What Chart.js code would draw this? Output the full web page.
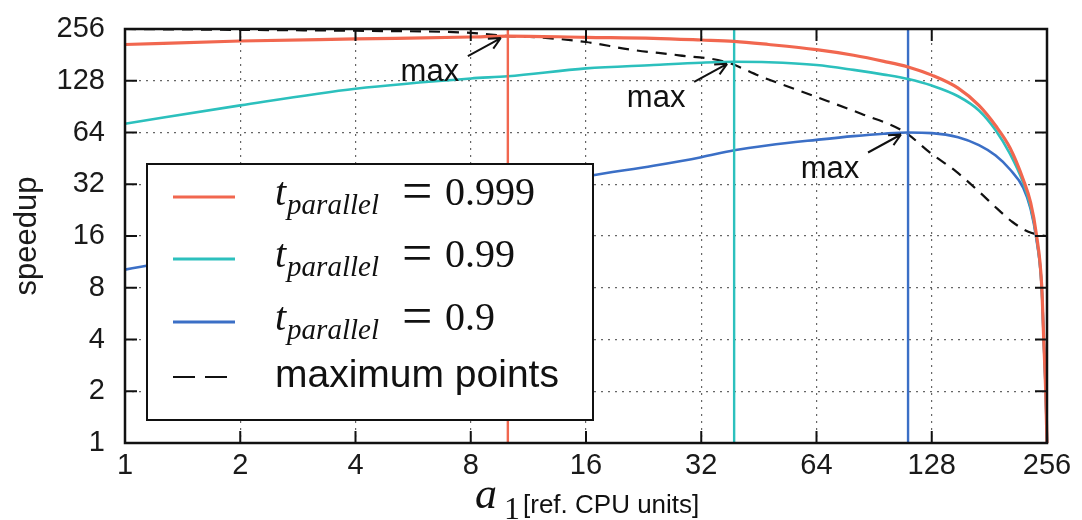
<!DOCTYPE html>
<html>
<head>
<meta charset="utf-8">
<script src="https://cdn.jsdelivr.net/npm/chart.js@4.4.0/dist/chart.umd.min.js"></script>
<style>
  html, body { margin:0; padding:0; background:#fff; }
</style>
</head>
<body>
<canvas id="myChart" width="1082" height="520"></canvas>
<script>
'use strict' ;

// a1 sizes where the curves were read
const xVals = [1, 2, 4, 8, 10, 16, 24, 32, 39, 48, 64, 80, 96, 111, 128, 150, 170, 188, 205, 222, 232, 240, 248, 251, 254, 256] ;
const speedup999 = [208, 218, 224, 230, 233, 229, 226, 221, 217, 208, 194, 180, 166, 154, 138, 116, 92, 70, 52, 34, 25, 16.5, 8.2, 4, 2, 1] ;
const speedup99 = [72, 92, 115, 132, 136, 151, 158, 163, 165, 164, 158, 148, 139, 131, 120, 104, 86, 66, 48, 32.5, 23.5, 16, 8, 4, 2, 1] ;
const speedup9 = [10.2, 13.5, 19, 26, 28.5, 35.5, 41, 46, 50.5, 54, 58, 61, 63, 64, 63.5, 60, 54, 47, 39, 30.5, 23, 15.5, 8, 4, 2, 1] ;

// dashed line through the maxima
const maxLineX = [1, 2, 4, 8, 10, 12, 16, 21, 28, 37, 46, 64, 84, 108, 128, 147, 170, 190, 208, 228, 245, 256] ;
const maxLineY = [256, 253, 250, 243, 233, 229, 215, 194, 180, 165, 135, 103, 82, 65, 48, 38.5, 29, 23, 19.3, 17, 16.2, 16] ;

const peakX = [10, 39, 111] ;
const peakY = [233, 165, 64] ;

const tickVals = [1, 2, 4, 8, 16, 32, 64, 128, 256] ;
const seriesNames = ['0.999', '0.99', '0.9'] ;
const maxName = 'maximum points' ;
const colors = ['#f1674f', '#2cc0bd', '#3b6fc6'] ;

function pts (xs, ys)
{
  let out = [] ;
  for (let i = 0 ; i < xs.length ; i++) { out.push({x: xs[i], y: ys[i]}) ; }
  return out ;
}

let sets = [] ;
let curves = [speedup999, speedup99, speedup9] ;
for (let i = 0 ; i < 3 ; i++)
{
  sets.push({
    label: seriesNames[i],
    data: pts(xVals, curves[i]),
    borderColor: colors[i],
    borderWidth: i === 0 ? 3.2 : 2.6,
    pointRadius: 0,
    cubicInterpolationMode: 'monotone',
    clip: 3
  }) ;
  sets.push({
    data: [{x: peakX[i], y: 1}, {x: peakX[i], y: 256}],
    borderColor: colors[i],
    borderWidth: 2.4,
    pointRadius: 0
  }) ;
}
sets.push({
  label: maxName,
  data: pts(maxLineX, maxLineY),
  borderColor: '#111',
  borderWidth: 2.2,
  borderDash: [11, 8],
  pointRadius: 0,
  cubicInterpolationMode: 'monotone',
  clip: 4
}) ;

function mathLabel (ctx, x, y, val)
{
  ctx.fillStyle = '#111' ;
  ctx.textAlign = 'left' ;
  ctx.textBaseline = 'alphabetic' ;
  ctx.font = 'italic 40px "Liberation Serif"' ;
  ctx.fillText('t', x, y) ;
  let w = ctx.measureText('t').width ;
  ctx.font = 'italic 29px "Liberation Serif"' ;
  ctx.fillText('parallel', x + w + 1, y + 9) ;
  ctx.font = '54px "Liberation Serif"' ;
  ctx.fillText('=', x + 127, y + 4) ;
  ctx.font = '40px "Liberation Serif"' ;
  ctx.fillText(val, x + 170, y) ;
}

function arrow (ctx, x1, y1, x2, y2)
{
  ctx.beginPath() ;
  ctx.moveTo(x1, y1) ;
  ctx.lineTo(x2, y2) ;
  let ang = Math.atan2(y2 - y1, x2 - x1) ;
  for (let s of [-1, 1])
  {
    ctx.moveTo(x2, y2) ;
    ctx.lineTo(x2 - 13 * Math.cos(ang + s * 0.45), y2 - 13 * Math.sin(ang + s * 0.45)) ;
  }
  ctx.stroke() ;
}

const extras = {
  id: 'extras',
  afterDatasetsDraw (chart)
  {
    const ctx = chart.ctx ;
    const a = chart.chartArea ;
    const xs = chart.scales.x ;
    const ys = chart.scales.y ;
    ctx.save() ;

    // legend box
    let lx = a.left + 22 , ly = a.top + 135 ;
    ctx.fillStyle = '#fff' ;
    ctx.fillRect(lx, ly, 446, 256) ;
    ctx.lineWidth = 2 ;
    ctx.strokeStyle = '#111' ;
    ctx.strokeRect(lx, ly, 446, 256) ;
    let rows = [33, 95, 158] ;
    for (let i = 0 ; i < 3 ; i++)
    {
      ctx.strokeStyle = colors[i] ;
      ctx.lineWidth = 3 ;
      ctx.beginPath() ;
      ctx.moveTo(lx + 26, ly + rows[i]) ;
      ctx.lineTo(lx + 88, ly + rows[i]) ;
      ctx.stroke() ;
      mathLabel(ctx, lx + 128, ly + rows[i] + 8, seriesNames[i]) ;
    }
    ctx.strokeStyle = '#111' ;
    ctx.lineWidth = 2.2 ;
    ctx.setLineDash([22, 10]) ;
    ctx.beginPath() ;
    ctx.moveTo(lx + 26, ly + 213) ;
    ctx.lineTo(lx + 82, ly + 213) ;
    ctx.stroke() ;
    ctx.setLineDash([]) ;
    ctx.fillStyle = '#111' ;
    ctx.font = '39px "Liberation Sans"' ;
    ctx.fillText(maxName, lx + 128, ly + 223) ;

    // "max" annotations
    ctx.font = '31px "Liberation Sans"' ;
    ctx.textAlign = 'center' ;
    ctx.lineWidth = 2 ;
    ctx.strokeStyle = '#111' ;
    for (let i = 0 ; i < peakX.length ; i++)
    {
      let px = xs.getPixelForValue(peakX[i]) ;
      let py = ys.getPixelForValue(peakY[i]) ;
      ctx.fillText('max', px - 78, py + 45) ;
      arrow(ctx, px - 40, py + 20, px - 7, py + 2) ;
    }

    // frame and inward ticks
    ctx.lineWidth = 2.5 ;
    ctx.strokeRect(a.left, a.top, a.right - a.left, a.bottom - a.top) ;
    ctx.lineWidth = 2 ;
    ctx.beginPath() ;
    for (let v of tickVals)
    {
      let px = xs.getPixelForValue(v) ;
      let py = ys.getPixelForValue(v) ;
      ctx.moveTo(px, a.bottom) ; ctx.lineTo(px, a.bottom - 12) ;
      ctx.moveTo(px, a.top) ; ctx.lineTo(px, a.top + 12) ;
      ctx.moveTo(a.left, py) ; ctx.lineTo(a.left + 12, py) ;
      ctx.moveTo(a.right, py) ; ctx.lineTo(a.right - 12, py) ;
    }
    ctx.stroke() ;
    ctx.restore() ;
  },
  afterDraw (chart)
  {
    const ctx = chart.ctx ;
    const a = chart.chartArea ;
    let cx = (a.left + a.right) / 2 ;
    ctx.save() ;
    ctx.fillStyle = '#111' ;
    ctx.textAlign = 'left' ;
    ctx.textBaseline = 'alphabetic' ;
    ctx.font = 'italic 44px "Liberation Serif"' ;
    ctx.fillText('a', cx - 111, 508) ;
    ctx.font = '32px "Liberation Serif"' ;
    ctx.fillText('1', cx - 82, 519) ;
    ctx.font = '26px "Liberation Sans"' ;
    ctx.fillText('[ref. CPU units]', cx - 63, 513) ;
    ctx.restore() ;
  }
} ;

function powTicks (scale)
{
  scale.ticks = tickVals.map(v => ({value: v})) ;
}

const tickFont = {family: '"Liberation Sans"', size: 29} ;

let ctx = document.getElementById('myChart').getContext('2d') ;
let myChart = new Chart(ctx, {
  type: 'line',
  data: { datasets: sets },
  options: {
    responsive: false,
    animation: false,
    events: [],
    layout: { padding: { top: 29, right: 35, left: 0, bottom: 0 } },
    plugins: { legend: { display: false }, tooltip: { enabled: false } },
    scales: {
      x: {
        type: 'logarithmic',
        min: 1,
        max: 256,
        afterBuildTicks: powTicks,
        afterFit: s => { s.height = 77 ; s.paddingLeft = 0 ; s.paddingRight = 0 ; },
        ticks: { font: tickFont, color: '#1a1a1a', padding: 6, maxRotation: 0, autoSkip: false, callback: v => String(v) },
        grid: { color: '#666', lineWidth: 1.2, drawTicks: false },
        border: { display: false, dash: [2, 5] }
      },
      y: {
        type: 'logarithmic',
        min: 1,
        max: 256,
        afterBuildTicks: powTicks,
        afterFit: s => { s.width = 125 ; s.paddingTop = 0 ; s.paddingBottom = 0 ; },
        ticks: { font: tickFont, color: '#1a1a1a', padding: 20, autoSkip: false, callback: v => String(v) },
        grid: { color: '#666', lineWidth: 1.2, drawTicks: false },
        border: { display: false, dash: [2, 5] },
        title: { display: true, text: 'speedup', font: {family: '"Liberation Sans"', size: 31}, color: '#1a1a1a', padding: { top: 9, bottom: 0 } }
      }
    }
  },
  plugins: [extras]
}) ;
</script>
</body>
</html>
